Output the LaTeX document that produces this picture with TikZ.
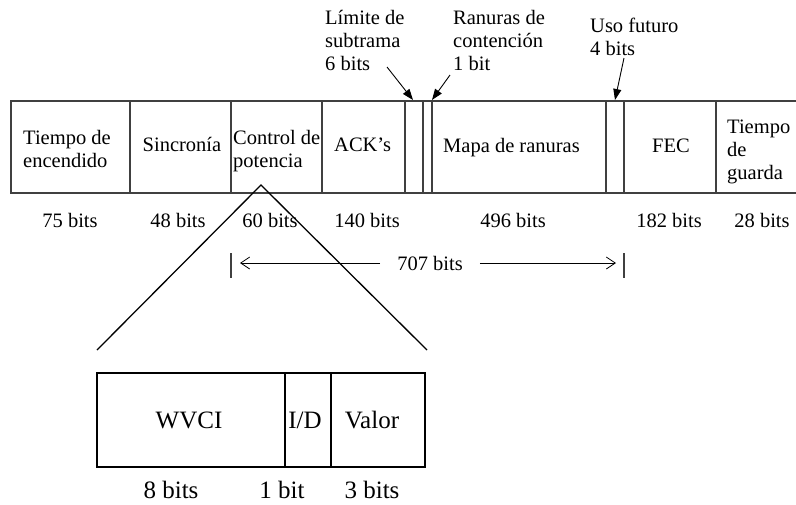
\documentclass[tikz,border=0pt]{standalone}
\usepackage{fontspec}
\setmainfont{Liberation Serif}
\usetikzlibrary{arrows.meta}
% stacked, left-aligned lines whose baseline is that of the first line
\newcommand\stk[1]{\begin{tabular}[t]{@{}l@{}}#1\end{tabular}}
\begin{document}
\begin{tikzpicture}[x=1pt,y=-1pt,
  lbl/.style={inner sep=0pt, font=\fontsize{20.5}{23}\selectfont},
  big/.style={inner sep=0pt, font=\fontsize{25}{28}\selectfont},
  frameline/.style={draw=black!75, line width=1.1pt},
  boxline/.style={draw=black, line width=1.2pt},
  wedge/.style={draw=black, line width=1.3pt},
  pointer/.style={draw=black, line width=0.9pt, -{Triangle[length=11pt,width=8pt]}},
  span/.style={draw=black, line width=0.8pt, -{Straight Barb[length=9pt,width=12pt]}},
]
\useasboundingbox (0,0) rectangle (796,504);

% frame fields
\draw[frameline] (796,101) -- (11,101) -- (11,193) -- (796,193);
\foreach \x in {130,231,322,405,423,432,606,624,716}
  \draw[frameline] (\x,101) -- (\x,193);

% field names
\node[lbl, anchor=base west] (enc) at (23,144) {\stk{Tiempo de\\encendido}};
\node[lbl, anchor=base] (sync) at (182,151) {Sincronía};
\node[lbl, anchor=base west] (pot) at (233,144) {\stk{Control de\\potencia}};
\node[lbl, anchor=base west] (ack) at (334,151) {ACK’s};
\node[lbl, anchor=base west] (mapa) at (443,152) {Mapa de ranuras};
\node[lbl, anchor=base] (fec) at (671,152) {FEC};
\node[lbl, anchor=base west] (guarda) at (727,133) {\stk{Tiempo\\de\\guarda}};

% field sizes
\node[lbl, anchor=base] (b75) at (70,227) {75 bits};
\node[lbl, anchor=base] (b48) at (178,227) {48 bits};
\node[lbl, anchor=base] (b60) at (270,227) {60 bits};
\node[lbl, anchor=base] (b140) at (367,227) {140 bits};
\node[lbl, anchor=base] (b496) at (513,227) {496 bits};
\node[lbl, anchor=base] (b182) at (669,227) {182 bits};
\node[lbl, anchor=base] (b28) at (762,227) {28 bits};

% narrow fields labelled from above
\node[lbl, anchor=base west] (lim) at (325,24) {\stk{Límite de\\subtrama\\6 bits}};
\node[lbl, anchor=base west] (cont) at (453,24) {\stk{Ranuras de\\contención\\1 bit}};
\node[lbl, anchor=base west] (uso) at (590,32) {\stk{Uso futuro\\4 bits}};
\coordinate (limA) at (387,67);  \coordinate (limB) at (413,100);
\coordinate (contA) at (450,75); \coordinate (contB) at (432,100);
\coordinate (usoA) at (624,58);  \coordinate (usoB) at (615,100);
\draw[pointer] (limA) -- (limB);
\draw[pointer] (contA) -- (contB);
\draw[pointer] (usoA) -- (usoB);

% 707-bit span
\coordinate (tl1) at (231,253); \coordinate (tl2) at (231,278);
\coordinate (tr1) at (624,253); \coordinate (tr2) at (624,278);
\draw[frameline] (tl1) -- (tl2);
\draw[frameline] (tr1) -- (tr2);
\node[lbl, inner xsep=17pt, anchor=base] (tot) at (430,270) {707 bits};
\coordinate (totL) at (240,263);
\coordinate (totR) at (616,263);
\draw[span] (totL -| tot.west) -- (totL);
\draw[span] (totR -| tot.east) -- (totR);

% expansion of the power-control field
\coordinate (apex) at (261,185);
\coordinate (wl) at (97,350);
\coordinate (wr) at (427,350);
\draw[wedge] (wl) -- (apex) -- (wr);

\draw[boxline] (97,373) rectangle (425,467);
\draw[boxline] (285,373) -- (285,467);
\draw[boxline] (331,373) -- (331,467);
\node[big, anchor=base] (wvci) at (189,428) {WVCI};
\node[big, anchor=base] (id) at (305,428) {I/D};
\node[big, anchor=base] (valor) at (372,428) {Valor};
\node[big, anchor=base] (b8) at (171,498) {8 bits};
\node[big, anchor=base] (b1) at (282,498) {1 bit};
\node[big, anchor=base] (b3) at (372,498) {3 bits};
\end{tikzpicture}
\end{document}
